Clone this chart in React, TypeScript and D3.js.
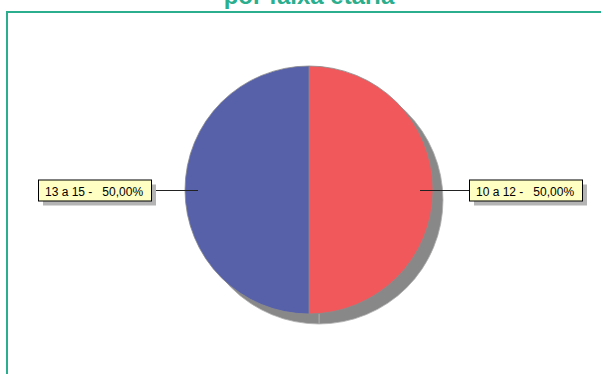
import React from "react";
import * as d3 from "d3";

const categories = ["10 a 12", "13 a 15"];
const values = [50, 50];
const colors = ["#F0585B", "#5661AA"];
const titleLines = ["por faixa etária"];

const W = 601;
const H = 374;

export default function App() {
  const cx = 309;
  const cy = 190;
  const r = 124;
  const total = d3.sum(values);
  const pie = d3.pie<number>().sort(null).startAngle(0).endAngle(2 * Math.PI);
  const arcs = pie(values);
  const arc = d3.arc<d3.PieArcDatum<number>>().innerRadius(0).outerRadius(r);
  const fmt = (v: number) => (v / total * 100).toFixed(2).replace(".", ",") + "%";

  return (
    <svg width={W} height={H} style={{ position: "absolute", left: 0, top: 0 }} fontFamily="Arial, 'Liberation Sans', sans-serif">
      <rect x={0} y={0} width={W} height={H} fill="#fff" />
      {titleLines.map((t, i) => (
        <text key={i} x={309} y={4 + i * 26} textAnchor="middle" fontSize={24} fontWeight="bold" fill="#2AAE8E">{t}</text>
      ))}
      <path d={`M7,${H} V12 H${W}`} fill="none" stroke="#2AAE8E" strokeWidth={2} />
      {/* shadow */}
      <g transform={`translate(${cx + 10},${cy + 10})`}>
        {arcs.map((a, i) => (
          <path key={i} d={arc(a) || ""} fill="#888888" stroke="#B0B0B0" strokeWidth={0.8} />
        ))}
      </g>
      <g transform={`translate(${cx},${cy})`}>
        {arcs.map((a, i) => (
          <path key={i} d={arc(a) || ""} fill={colors[i]} stroke="#8C8C8C" strokeWidth={0.8} />
        ))}
      </g>
      {arcs.map((a, i) => {
        const mid = (a.startAngle + a.endAngle) / 2;
        const right = Math.sin(mid) > 0;
        const ly = cy;
        const innerX = cx + (right ? 1 : -1) * (r - 13);
        const boxW = 113;
        const boxH = 21;
        const boxX = right ? 469 : 38;
        const boxY = ly - 10.5;
        const edgeX = right ? boxX : boxX + boxW;
        return (
          <g key={"l" + i}>
            <line x1={innerX} y1={ly + 0.5} x2={edgeX} y2={ly + 0.5} stroke="#222" strokeWidth={1} />
            <rect x={boxX + 5} y={boxY + 5} width={boxW} height={boxH} fill="#B4B4B4" />
            <rect x={boxX + 0.5} y={boxY + 0.5} width={boxW} height={boxH} fill="#FFFFC4" stroke="#000" strokeWidth={1} />
            <text x={boxX + 7} y={ly + 6} fontSize={12} fill="#000" style={{ whiteSpace: "pre" }} xmlSpace="preserve">
              {`${categories[i]} -   ${fmt(values[i])}`}
            </text>
          </g>
        );
      })}
    </svg>
  );
}
